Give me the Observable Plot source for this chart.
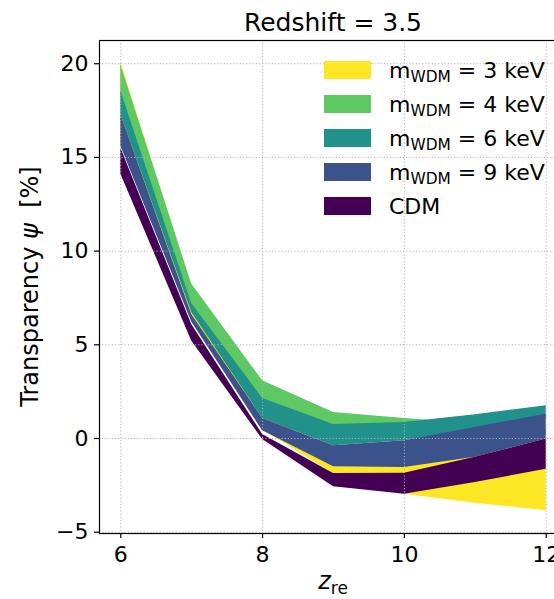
<!DOCTYPE html>
<html><head><meta charset="utf-8">
<script src="https://cdn.jsdelivr.net/npm/d3@7"></script>
<script src="https://cdn.jsdelivr.net/npm/@observablehq/plot@0.6"></script>
<style>
html,body{margin:0;padding:0;background:#fff;overflow:hidden;}
#wrap{width:554px;height:599px;overflow:hidden;position:relative;}
#wrap svg{max-width:none !important;}
svg text{font-family:"DejaVu Sans",sans-serif;}
</style></head><body><div id="wrap"></div>
<script>
// reionization redshift
const zre = [6, 7, 8, 9, 10, 11, 12];
// series (drawn in this order)
const seriesKeys = ["m3", "m4", "m6", "m9", "cdm"];
const seriesMass = ["3", "4", "6", "9", null];
const seriesColors = ["#fde725", "#5ec962", "#21918c", "#3b528b", "#440154"];
// band bounds, transparency psi [%]
const lo_m3  = [16.0, 6.4, 0.45, -1.87, -2.97, -3.45, -3.86];
const hi_m3  = [20.09, 8.1, 1.5, -1.0, -1.3, -0.9, -0.4];
const lo_m4  = [18.3, 7.0, 1.9, 0.5, 0.5, 0.3, 0.2];
const hi_m4  = [19.95, 8.25, 3.08, 1.39, 1.07, 0.8, 0.5];
const lo_m6  = [17.3, 6.72, 1.07, -0.39, -0.12, 0.5, 1.0];
const hi_m6  = [18.55, 7.2, 2.14, 0.75, 0.85, 1.27, 1.75];
const lo_m9  = [15.6, 6.22, 0.41, -1.51, -1.55, -1.0, -0.03];
const hi_m9  = [17.3, 6.62, 1.07, -0.39, -0.12, 0.59, 1.30];
const lo_cdm = [14.12, 5.2, -0.05, -2.58, -2.97, -2.35, -1.64];
const hi_cdm = [15.5, 6.08, 0.22, -1.87, -1.85, -1.0, -0.03];
// axes
const xTicks = [6, 8, 10, 12];
const yTicks = [-5, 0, 5, 10, 15, 20];
const xDomain = [5.7, 12.3];
const yDomain = [-5.07, 21.24];
const titleText = "Redshift = 3.5";

const bounds = {
  m3: [lo_m3, hi_m3], m4: [lo_m4, hi_m4], m6: [lo_m6, hi_m6],
  m9: [lo_m9, hi_m9], cdm: [lo_cdm, hi_cdm]
};
const bandMarks = seriesKeys.map((k, i) => {
  const rows = zre.map((x, j) => ({x, lo: bounds[k][0][j], hi: bounds[k][1][j]}));
  return Plot.areaY(rows, {x: "x", y1: "lo", y2: "hi", fill: seriesColors[i], curve: "linear"});
});

const fmt = d3.format("~g");
const W = 570, H = 599;
const M = {left: 99, right: 3, top: 40, bottom: 66};
const svg = Plot.plot({
  width: W, height: H,
  marginLeft: M.left, marginRight: M.right, marginTop: M.top, marginBottom: M.bottom,
  style: {fontFamily: "DejaVu Sans, sans-serif", fontSize: "22px", background: "#fff", color: "#000", overflow: "visible", maxWidth: "none"},
  x: {domain: xDomain},
  y: {domain: yDomain},
  marks: [
    ...bandMarks,
    Plot.gridX(xTicks, {stroke: "#b0b0b0", strokeOpacity: 1, strokeWidth: 1, strokeDasharray: "1.2,2"}),
    Plot.gridY(yTicks, {stroke: "#b0b0b0", strokeOpacity: 1, strokeWidth: 1, strokeDasharray: "1.2,2"}),
    Plot.axisX({ticks: xTicks, tickFormat: fmt, tickSize: 5, tickPadding: 8, label: null, strokeWidth: 1.2}),
    Plot.axisY({ticks: yTicks, tickFormat: fmt, tickSize: 5, tickPadding: 6, label: null, strokeWidth: 1.2}),
    Plot.frame({stroke: "#000", strokeWidth: 1.2})
  ]
});
svg.style.maxWidth = "none";
svg.setAttribute("width", W);
svg.setAttribute("height", H);
document.getElementById("wrap").appendChild(svg);

const sx = svg.scale("x"), sy = svg.scale("y");
const x0 = Math.min(...sx.range), x1 = Math.max(...sx.range);
const y0 = Math.min(...sy.range), y1 = Math.max(...sy.range);
const cx = (x0 + x1) / 2, cy = (y0 + y1) / 2;
const g = d3.select(svg).append("g").attr("fill", "#000").attr("text-anchor", "start");

// title
g.append("text").attr("x", cx).attr("y", y0 - 9).attr("text-anchor", "middle")
  .attr("font-size", 25).text(titleText);

// x label
const xl = g.append("text").attr("x", cx).attr("y", y1 + 56).attr("text-anchor", "middle").attr("font-size", 24);
xl.append("tspan").attr("font-style", "italic").text("z");
xl.append("tspan").attr("font-size", 17).attr("dy", 5).text("re");

// y label
const yl = g.append("text").attr("transform", `translate(${x0 - 61.5},${cy}) rotate(-90)`)
  .attr("text-anchor", "middle").attr("font-size", 24);
yl.append("tspan").text("Transparency ");
yl.append("tspan").attr("font-style", "italic").text("ψ");
yl.append("tspan").text("\u00a0\u00a0[%]");

// legend
const lg = g.append("g");
seriesKeys.forEach((k, i) => {
  const top = y0 + 21 + 34 * i;
  lg.append("rect").attr("x", x1 - 243).attr("y", top).attr("width", 47).attr("height", 18)
    .attr("fill", seriesColors[i]);
  const t = lg.append("text").attr("x", x1 - 178).attr("y", top + 16.5).attr("font-size", 22)
    .attr("text-anchor", "start");
  if (seriesMass[i] !== null) {
    t.append("tspan").text("m");
    t.append("tspan").attr("font-size", 15.4).attr("dy", 4).text("WDM");
    t.append("tspan").attr("dy", -4).text("\u00a0=\u00a0" + seriesMass[i] + "\u00a0keV");
  } else {
    t.append("tspan").text("CDM");
  }
});
</script></body></html>
